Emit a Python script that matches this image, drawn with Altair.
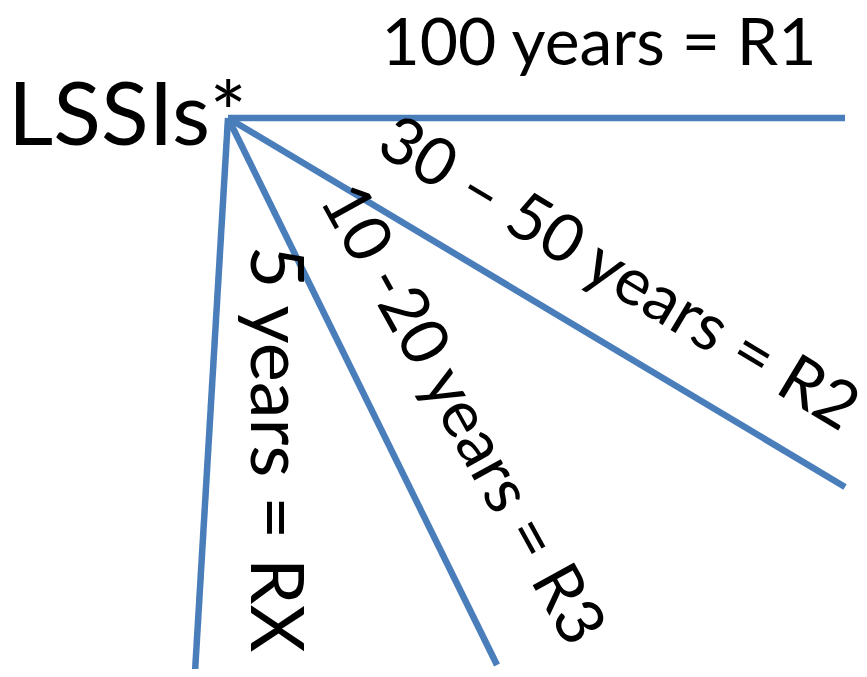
import altair as alt
import pandas as pd

# Diagram coordinates (x to the right, y downward), origin of rays = LSSIs* point
origin_x = 228
origin_y = 118
ray_names = ["R1", "R2", "R3", "RX"]
ray_end_x = [845, 845, 497, 195]
ray_end_y = [118, 487, 665, 672]

label_texts = ["100 years = R1", "30 \u2013 50 years = R2", "10 -20 years = R3", "5 years = RX"]
label_x = [599, 618, 461, 273]
label_y = [45, 275, 415, 449]
label_angle = [0, 31, 61, 90]

title_text = ["LSSIs*"]
title_x = [8]
title_y = [119]

rows = []
for n, ex, ey in zip(ray_names, ray_end_x, ray_end_y):
    rows.append({"ray": n, "order": 0, "x": origin_x, "y": origin_y})
    rows.append({"ray": n, "order": 1, "x": ex, "y": ey})
rays = pd.DataFrame(rows)
labels = pd.DataFrame({"text": label_texts, "x": label_x, "y": label_y, "angle": label_angle})
title = pd.DataFrame({"text": title_text, "x": title_x, "y": title_y})

W, H = 851, 661
xs = alt.Scale(domain=[8, 8 + W], nice=False, zero=False)
ys = alt.Scale(domain=[8, 8 + H], nice=False, zero=False, reverse=True)

lines = alt.Chart(rays).mark_line(color="#4A7EBB", strokeWidth=6.5, strokeCap="butt").encode(
    x=alt.X("x:Q", scale=xs, axis=None),
    y=alt.Y("y:Q", scale=ys, axis=None),
    detail="ray:N",
    order="order:Q",
)

enc = dict(
    x=alt.X("x:Q", scale=xs, axis=None),
    y=alt.Y("y:Q", scale=ys, axis=None),
    angle=alt.Angle("angle:Q", scale=None),
    text="text:N",
)

text_main = alt.Chart(labels).transform_filter(
    alt.datum.angle != 90
).mark_text(
    font="Lato", fontSize=66, color="black", align="center", baseline="middle"
).encode(**enc)

text_rx = alt.Chart(labels).transform_filter(
    alt.datum.angle == 90
).mark_text(
    font="Lato", fontSize=74, color="black", align="center", baseline="middle"
).encode(**enc)

big = alt.Chart(title).mark_text(
    font="Lato", fontSize=88, color="black", align="left", baseline="middle"
).encode(
    x=alt.X("x:Q", scale=xs, axis=None),
    y=alt.Y("y:Q", scale=ys, axis=None),
    text="text:N",
)

chart = alt.layer(lines, text_main, text_rx, big).properties(
    width=W, height=H, padding=0, autosize=alt.AutoSizeParams(type="none")
).configure_view(stroke=None)

chart.save("out.html", embed_options={"renderer": "svg", "actions": False})
